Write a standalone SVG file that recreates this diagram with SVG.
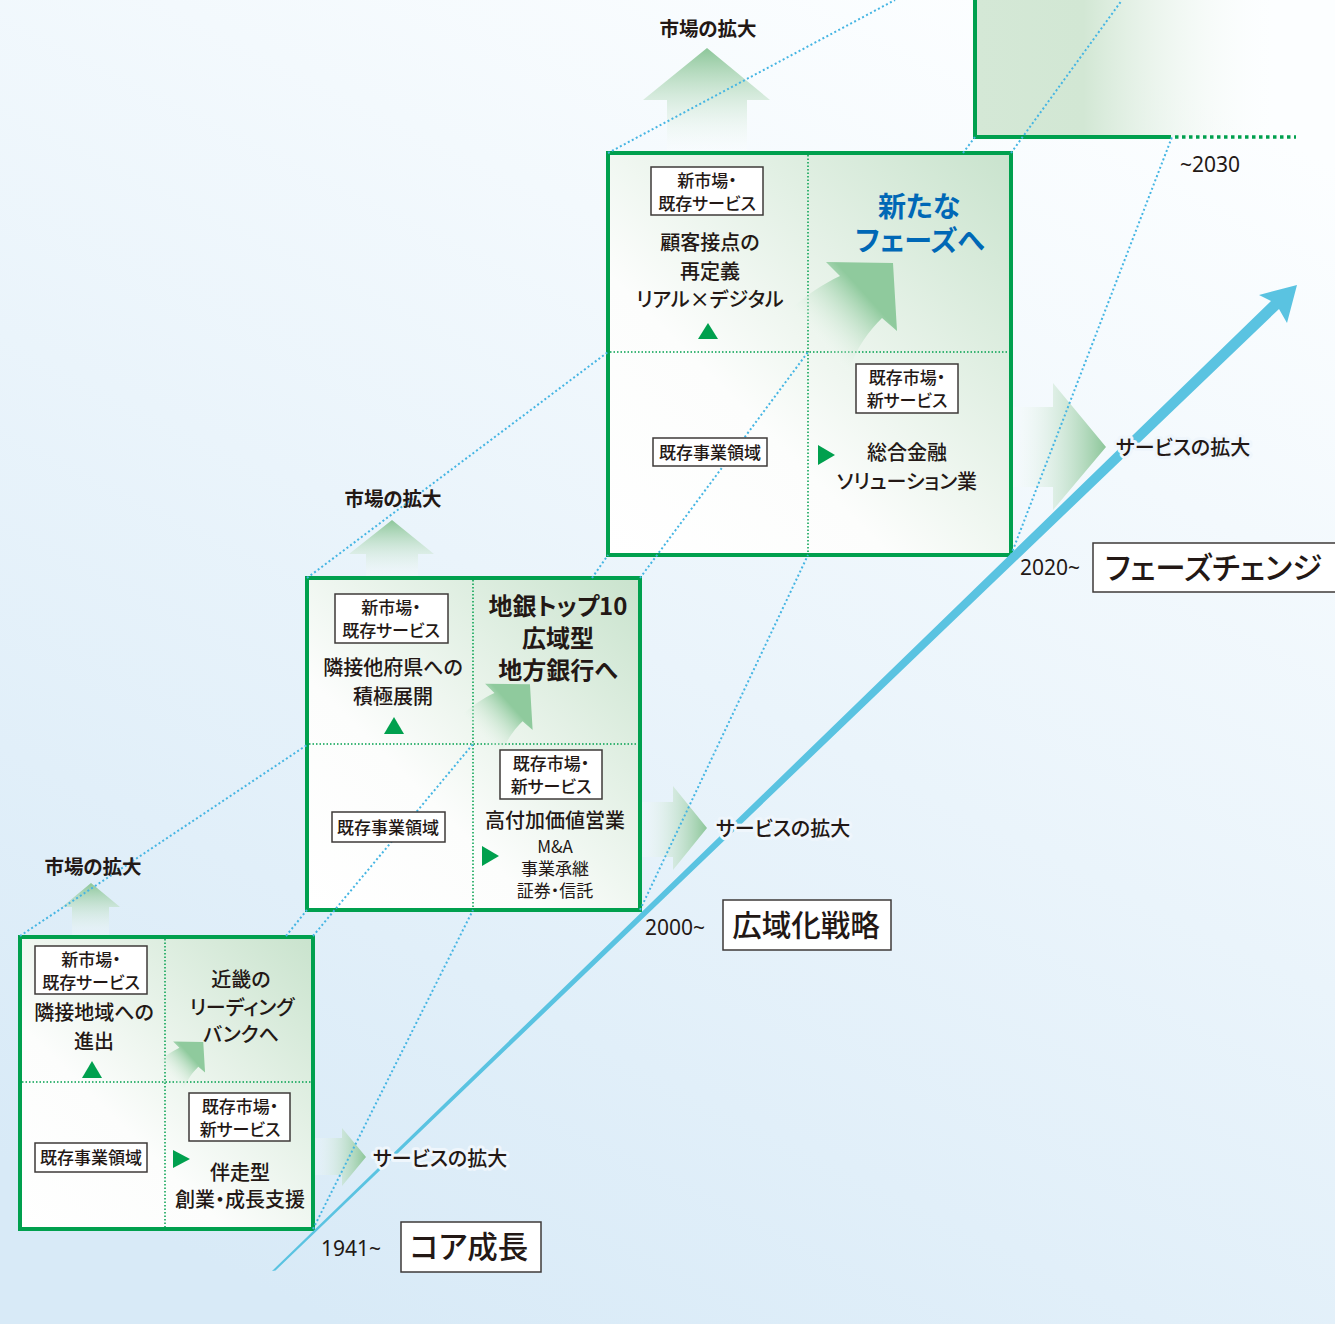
<svg xmlns="http://www.w3.org/2000/svg" width="1335" height="1324" viewBox="0 0 1335 1324">
<defs>
<style>
.t{font-family:"Noto Sans CJK JP","Noto Sans",sans-serif;fill:#231815;text-anchor:middle;font-feature-settings:"palt"}
.st{text-anchor:start}
.b{font-weight:bold}
.m{font-size:20px;font-weight:500}
.s{font-size:17px;font-weight:500}
.big{font-size:30.5px;font-weight:500}
.yr{font-family:"Noto Sans","Liberation Sans",sans-serif;font-size:21px;fill:#231815}
.lb{fill:#fff;stroke:#3e3a39;stroke-width:1.5}
.bx{fill:url(#boxg);stroke:#00a04e;stroke-width:4}
.dv{stroke:#00a04e;stroke-width:1.5;stroke-dasharray:1.5 2;fill:none}
.dl{stroke:#45b5e3;stroke-width:2;stroke-dasharray:2 2.5;fill:none}
.halo{stroke:#eff6fc;stroke-width:6;paint-order:stroke;stroke-linejoin:round}
.tri{fill:#00a04e}
</style>
<linearGradient id="bg" x1="0.75" y1="0" x2="0.25" y2="1">
<stop offset="0" stop-color="#fcfeff"/><stop offset="1" stop-color="#d8eaf7"/>
</linearGradient>
<linearGradient id="boxg" x1="0" y1="1" x2="1" y2="0">
<stop offset="0" stop-color="#ffffff"/><stop offset="0.35" stop-color="#fcfdfc"/><stop offset="1" stop-color="#c9e3cd"/>
</linearGradient>
<linearGradient id="upg" x1="0" y1="0" x2="0" y2="1">
<stop offset="0" stop-color="#8cc699"/><stop offset="1" stop-color="#ffffff" stop-opacity="0.2"/>
</linearGradient>
<linearGradient id="rg" x1="0" y1="0" x2="1" y2="0">
<stop offset="0" stop-color="#ffffff" stop-opacity="0.2"/><stop offset="1" stop-color="#8cc699"/>
</linearGradient>
<linearGradient id="cg" gradientUnits="userSpaceOnUse" x1="0" y1="-10" x2="55" y2="-60">
<stop offset="0" stop-color="#ffffff" stop-opacity="0"/><stop offset="1" stop-color="#8fca9d"/>
</linearGradient>
<linearGradient id="b4g" x1="0" y1="0" x2="1" y2="0">
<stop offset="0" stop-color="#d4e8d6"/><stop offset="0.35" stop-color="#d2e7d4"/><stop offset="1" stop-color="#ffffff" stop-opacity="0"/>
</linearGradient>
<path id="carrow" d="M18,-90 L85,-89 L89,-21 L74,-34 C62,-22 48,-5 40,21 L-16,-44 C0,-58 15,-68 32,-76 Z" fill="url(#cg)"/>
</defs>

<rect width="1335" height="1324" fill="url(#bg)"/>

<g id="box4">
<rect x="975" y="-10" width="310" height="147" fill="url(#b4g)"/>
<path d="M975,-10 V137 H1171" fill="none" stroke="#00a04e" stroke-width="4"/>
<line x1="1175" y1="137" x2="1296" y2="137" stroke="#00a04e" stroke-width="3.5" stroke-dasharray="3.5 3.5"/>
</g>

<g id="growth-arrows">
<path d="M667,152 V100 H643 L707,48 L770,100 H747 V152 Z" fill="url(#upg)"/>
<path d="M366,578 V554 H349 L392,520 L434,554 H418 V578 Z" fill="url(#upg)"/>
<path d="M72,936 V907 H62 L91,883 L120,907 H109 V936 Z" fill="url(#upg)"/>
<path d="M1012,407 H1053 V383 L1106,447 L1053,510 V487 H1012 Z" fill="url(#rg)"/>
<path d="M641,802 H673 V786 L707,828 L673,870 V857 H641 Z" fill="url(#rg)"/>
<path d="M315,1138 H342 V1128 L366,1157 L342,1186 V1175 H315 Z" fill="url(#rg)"/>
</g>

<g id="box1">
<rect class="bx" x="20" y="937" width="293" height="292"/>
<line class="dv" x1="165" y1="939" x2="165" y2="1227"/>
<line class="dv" x1="22" y1="1082" x2="311" y2="1082"/>
<use href="#carrow" transform="translate(165,1082) scale(0.45)"/>
</g>
<g id="box2">
<rect class="bx" x="307" y="578" width="333" height="332"/>
<line class="dv" x1="473" y1="580" x2="473" y2="908"/>
<line class="dv" x1="309" y1="744" x2="638" y2="744"/>
<use href="#carrow" transform="translate(473,744) scale(0.67)"/>
</g>
<g id="box3">
<rect class="bx" x="608" y="153" width="403" height="402"/>
<line class="dv" x1="808" y1="155" x2="808" y2="553"/>
<line class="dv" x1="610" y1="352" x2="1009" y2="352"/>
<use href="#carrow" transform="translate(808,352)"/>
</g>

<g id="connectors">
<line class="dl" x1="20" y1="936" x2="307" y2="745"/>
<line class="dl" x1="307" y1="578" x2="608" y2="352"/>
<line class="dl" x1="608" y1="153" x2="895" y2="0"/>
<line class="dl" x1="313" y1="936" x2="473" y2="744"/>
<line class="dl" x1="640" y1="578" x2="808" y2="352"/>
<line class="dl" x1="1011" y1="153" x2="1122" y2="0"/>
<line class="dl" x1="286" y1="936" x2="307" y2="910"/>
<line class="dl" x1="592" y1="578" x2="608" y2="555"/>
<line class="dl" x1="963" y1="153" x2="975" y2="137"/>
<line class="dl" x1="313" y1="1229" x2="473" y2="910"/>
<line class="dl" x1="640" y1="910" x2="808" y2="555"/>
<line class="dl" x1="1011" y1="555" x2="1172" y2="137"/>
<path id="blue-arrow" d="M272,1271 L275.5,1270.5 L1279,309 L1287,323 L1297,285 L1259,295 L1271,301 Z" fill="#5ac3e1"/>
</g>

<g id="texts1">
<rect class="lb" x="35" y="946" width="112" height="48"/>
<text class="t s" x="91" y="966">新市場・</text>
<text class="t s" x="91" y="989">既存サービス</text>
<text class="t m" x="94" y="1020">隣接地域への</text>
<text class="t m" x="94" y="1049">進出</text>
<path class="tri" d="M82,1078 H102 L92,1061 Z"/>
<text class="t m b" x="241" y="987">近畿の</text>
<text class="t m b" x="242" y="1015">リーディング</text>
<text class="t m b" x="241" y="1042">バンクへ</text>
<rect class="lb" x="189" y="1093" width="101" height="48"/>
<text class="t s" x="240" y="1113">既存市場・</text>
<text class="t s" x="240" y="1136">新サービス</text>
<path class="tri" d="M173,1150 V1168 L190,1159 Z"/>
<text class="t m" x="240" y="1180">伴走型</text>
<text class="t m" x="240" y="1207">創業・成長支援</text>
<rect class="lb" x="35" y="1143" width="112" height="29"/>
<text class="t s" x="91" y="1164">既存事業領域</text>
</g>

<g id="texts2">
<rect class="lb" x="335" y="594" width="113" height="49"/>
<text class="t s" x="391" y="614">新市場・</text>
<text class="t s" x="391" y="637">既存サービス</text>
<text class="t m" x="393" y="675">隣接他府県への</text>
<text class="t m" x="393" y="704">積極展開</text>
<path class="tri" d="M384,734 H404 L394,717 Z"/>
<text class="t b" x="558" y="615" font-size="24">地銀トップ10</text>
<text class="t b" x="558" y="647" font-size="24">広域型</text>
<text class="t b" x="558" y="679" font-size="24">地方銀行へ</text>
<rect class="lb" x="500" y="750" width="102" height="49"/>
<text class="t s" x="551" y="770">既存市場・</text>
<text class="t s" x="551" y="793">新サービス</text>
<text class="t m" x="555" y="828">高付加価値営業</text>
<path class="tri" d="M482,846 V866 L499,856 Z"/>
<text class="t" x="555" y="853" font-size="17">M&amp;A</text>
<text class="t" x="555" y="875" font-size="17">事業承継</text>
<text class="t" x="555" y="897" font-size="17">証券・信託</text>
<rect class="lb" x="332" y="812" width="113" height="30"/>
<text class="t s" x="388" y="834">既存事業領域</text>
</g>

<g id="texts3">
<rect class="lb" x="651" y="167" width="112" height="48"/>
<text class="t s" x="707" y="187">新市場・</text>
<text class="t s" x="707" y="210">既存サービス</text>
<text class="t m" x="710" y="250">顧客接点の</text>
<text class="t m" x="710" y="279">再定義</text>
<text class="t m" x="710" y="307">リアル×デジタル</text>
<path class="tri" d="M698,339 H718 L708,323 Z"/>
<text class="t b" x="919" y="217" font-size="28" style="fill:#0068b6">新たな</text>
<text class="t b" x="920" y="251" font-size="28" style="fill:#0068b6">フェーズへ</text>
<rect class="lb" x="856" y="364" width="102" height="49"/>
<text class="t s" x="907" y="384">既存市場・</text>
<text class="t s" x="907" y="407">新サービス</text>
<path class="tri" d="M818,445 V465 L835,455 Z"/>
<text class="t m" x="907" y="460">総合金融</text>
<text class="t m" x="907" y="489">ソリューション業</text>
<rect class="lb" x="653" y="438" width="114" height="28"/>
<text class="t s" x="710" y="459">既存事業領域</text>
</g>

<g id="labels">
<text class="t b" x="708" y="36" font-size="19.5">市場の拡大</text>
<text class="t b" x="393" y="506" font-size="19.5">市場の拡大</text>
<text class="t b" x="93" y="874" font-size="19.5">市場の拡大</text>
<text class="t m st halo" x="1116" y="455">サービスの拡大</text>
<text class="t m st halo" x="716" y="836">サービスの拡大</text>
<text class="t m st halo" x="373" y="1166">サービスの拡大</text>
<text class="yr" x="321" y="1256">1941~</text>
<text class="yr" x="645" y="935">2000~</text>
<text class="yr" x="1020" y="575">2020~</text>
<text class="yr" x="1180" y="172">~2030</text>
<rect class="lb" x="401" y="1222" width="140" height="50"/>
<text class="t big" x="469" y="1258">コア成長</text>
<rect class="lb" x="723" y="900" width="168" height="50"/>
<text class="t" x="806" y="936" font-size="29.5" font-weight="500">広域化戦略</text>
<rect class="lb" x="1093" y="543" width="250" height="49"/>
<text class="t big st" x="1105" y="579">フェーズチェンジ</text>
</g>
</svg>
